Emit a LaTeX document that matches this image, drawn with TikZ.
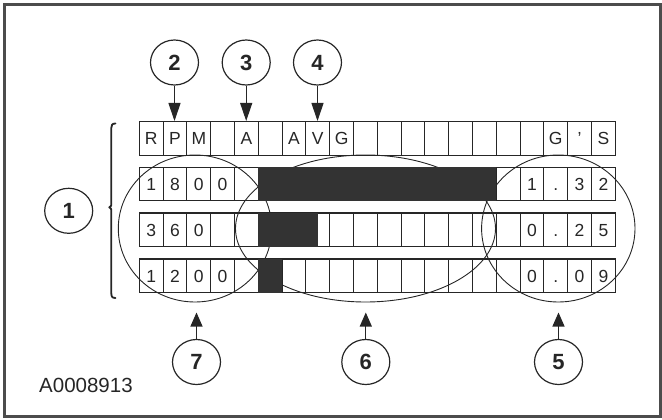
\documentclass[tikz,border=0pt]{standalone}
\usepackage{fontspec}
\setmainfont{Liberation Sans}
\usetikzlibrary{arrows.meta,shapes.geometric}
\tikzset{
  cell/.style={draw=black!85, line width=1.1pt, minimum width=23.8pt, minimum height=33.5pt,
    inner sep=0pt, outer sep=0pt, font=\fontsize{17.5}{20}\selectfont, text=black!85,
    text height=12.6pt, text depth=0pt},
  oval/.style={draw=black!85, line width=0.9pt, ellipse, inner sep=0pt, minimum height=147pt},
  callout/.style={draw=black!85, line width=1.2pt, ellipse, inner sep=0pt, minimum width=48pt,
    minimum height=45pt, font=\bfseries\fontsize{22}{24}\selectfont, text=black!85},
  arr/.style={draw=black!85, line width=1.1pt, -{Triangle[length=#1, width=12pt]}},
  arr/.default=18pt,
  bar/.style={fill=black!80},
  bracket/.style={draw=black!85, line width=1.8pt, line cap=round, line join=round},
}
\begin{document}
\begin{tikzpicture}[x=1pt,y=-1pt]
\useasboundingbox (0,0) rectangle (662,420);
\draw[line width=2.5pt, black!70] (4.5,4.5) rectangle (660.5,416.5);

% cells
\foreach \t [count=\c from 0] in {R,P,M,{},A,{},A,V,G,{},{},{},{},{},{},{},{},G,',S}
  \node[cell] (c0-\c) at ({151.2+23.8*\c},138.45) {\t};
\foreach \t [count=\c from 0] in {1,8,0,0,{},{},{},{},{},{},{},{},{},{},{},{},1,.,3,2}
  \node[cell] (c1-\c) at ({151.2+23.8*\c},183.95) {\t};
\foreach \t [count=\c from 0] in {3,6,0,{},{},{},{},{},{},{},{},{},{},{},{},{},0,.,2,5}
  \node[cell] (c2-\c) at ({151.2+23.8*\c},229.75) {\t};
\foreach \t [count=\c from 0] in {1,2,0,0,{},{},{},{},{},{},{},{},{},{},{},{},0,.,0,9}
  \node[cell] (c3-\c) at ({151.2+23.8*\c},275.75) {\t};

% group outlines
\node[oval, minimum width=153.4pt] (e7) at (195,228.5) {};
\node[oval, minimum width=260pt] (e6) at (365.5,228.5) {};
\node[oval, minimum width=153.4pt] (e5) at (558.3,228.5) {};

% bar graph
\fill[bar] (c1-5.north west) rectangle (c1-14.south east);
\fill[bar] (c2-5.north west) rectangle (c2-7.south);
\fill[bar] (c3-5.north west) rectangle (c3-5.south east);

% bracket
\draw[bracket] (115.5,123.5) .. controls (112,123.5) and (111.3,125) .. (111.3,128)
  -- (111.3,204) .. controls (111.3,206) .. (109.3,207.3) .. controls (111.3,208.6) .. (111.3,211)
  -- (111.3,293) .. controls (111.3,296.5) and (112,298) .. (115.5,298);

% callouts
\node[callout] (n1) at (68.7,210.8) {1};
\node[callout] (n2) at (174.5,62.5) {2};
\node[callout] (n3) at (246.2,62.5) {3};
\node[callout] (n4) at (317.5,62.5) {4};
\node[callout] (n7) at (196.5,362) {7};
\node[callout] (n6) at (365.8,362) {6};
\node[callout] (n5) at (558.5,362) {5};

\coordinate (t2) at (174.5,121);
\coordinate (t3) at (246.2,121);
\coordinate (t4) at (317.5,121);
\coordinate (t7) at (196.5,312.5);
\coordinate (t6) at (365.8,312.5);
\coordinate (t5) at (558.5,312.5);
\draw[arr] (n2) -- (t2);
\draw[arr] (n3) -- (t3);
\draw[arr] (n4) -- (t4);
\draw[arr=14pt] (n7) -- (t7);
\draw[arr=14pt] (n6) -- (t6);
\draw[arr=14pt] (n5) -- (t5);

\node[anchor=base west, inner sep=0pt, font=\fontsize{20.5}{24}\selectfont, text=black!85] (lbl) at (39,392) {A0008913};
\end{tikzpicture}
\end{document}
